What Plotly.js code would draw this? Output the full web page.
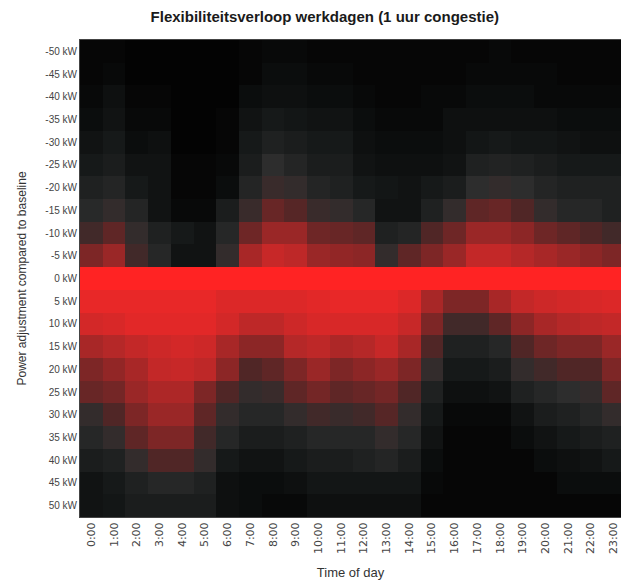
<!DOCTYPE html>
<html>
<head>
<meta charset="utf-8">
<script src="https://cdn.plot.ly/plotly-3.0.1.min.js"></script>
<style>html,body{margin:0;padding:0;background:#fff;overflow:hidden}#chart{width:621px;height:587px}</style>
</head>
<body>
<div id="chart"></div>
<script>
// Categories
const hours = ["0:00","1:00","2:00","3:00","4:00","5:00","6:00","7:00","8:00","9:00","10:00","11:00",
               "12:00","13:00","14:00","15:00","16:00","17:00","18:00","19:00","20:00","21:00","22:00","23:00"];
const powerLabels = ["-50 kW","-45 kW","-40 kW","-35 kW","-30 kW","-25 kW","-20 kW","-15 kW","-10 kW","-5 kW","0 kW",
                     "5 kW","10 kW","15 kW","20 kW","25 kW","30 kW","35 kW","40 kW","45 kW","50 kW"];

// Relative frequency (0..1) per power level, one value per hour
const p_m50 = [0.02,0.02,0.01,0.01,0.01,0.01,0.01,0.02,0.03,0.03,0.02,0.02,0.02,0.02,0.02,0.02,0.02,0.02,0.03,0.02,0.02,0.02,0.02,0.02];
const p_m45 = [0.02,0.03,0.01,0.01,0.01,0.01,0.01,0.02,0.04,0.04,0.03,0.03,0.02,0.02,0.02,0.02,0.02,0.03,0.03,0.03,0.03,0.02,0.02,0.02];
const p_m40 = [0.03,0.05,0.02,0.02,0.01,0.01,0.01,0.04,0.05,0.05,0.04,0.04,0.03,0.02,0.02,0.03,0.03,0.04,0.04,0.04,0.03,0.03,0.03,0.03];
const p_m35 = [0.04,0.06,0.03,0.03,0.01,0.01,0.02,0.06,0.08,0.07,0.06,0.06,0.04,0.03,0.03,0.03,0.05,0.05,0.05,0.05,0.05,0.04,0.04,0.04];
const p_m30 = [0.06,0.08,0.04,0.05,0.01,0.01,0.02,0.08,0.12,0.10,0.08,0.08,0.05,0.04,0.04,0.04,0.05,0.07,0.08,0.07,0.07,0.06,0.05,0.05];
const p_m25 = [0.08,0.10,0.06,0.06,0.02,0.02,0.03,0.10,0.18,0.14,0.10,0.10,0.06,0.05,0.05,0.05,0.06,0.12,0.13,0.12,0.10,0.08,0.08,0.08];
const p_m20 = [0.12,0.14,0.08,0.06,0.02,0.02,0.04,0.14,0.22,0.20,0.14,0.12,0.08,0.07,0.06,0.08,0.10,0.18,0.20,0.18,0.14,0.12,0.12,0.12];
const p_m15 = [0.16,0.20,0.14,0.06,0.03,0.03,0.10,0.22,0.38,0.32,0.22,0.20,0.15,0.06,0.06,0.12,0.20,0.35,0.38,0.30,0.20,0.15,0.15,0.12];
const p_m10 = [0.25,0.35,0.20,0.12,0.08,0.06,0.15,0.40,0.55,0.55,0.40,0.38,0.35,0.12,0.14,0.30,0.40,0.55,0.55,0.50,0.40,0.35,0.30,0.25];
const p_m5  = [0.45,0.55,0.25,0.15,0.06,0.06,0.20,0.60,0.72,0.68,0.55,0.52,0.50,0.20,0.35,0.45,0.55,0.70,0.70,0.65,0.60,0.55,0.50,0.45];
const p_0   = [1,1,1,1,1,1,1,1,1,1,1,1,1,1,1,1,1,1,1,1,1,1,1,1];
const p_5   = [0.88,0.88,0.88,0.88,0.88,0.88,0.82,0.82,0.82,0.82,0.85,0.88,0.88,0.88,0.82,0.60,0.45,0.45,0.60,0.70,0.75,0.78,0.80,0.82];
const p_10  = [0.78,0.80,0.85,0.85,0.85,0.85,0.78,0.68,0.68,0.75,0.80,0.80,0.80,0.80,0.72,0.45,0.25,0.25,0.35,0.50,0.60,0.65,0.68,0.70];
const p_15  = [0.60,0.65,0.70,0.75,0.78,0.75,0.60,0.50,0.50,0.65,0.68,0.62,0.65,0.72,0.60,0.30,0.12,0.12,0.15,0.30,0.40,0.45,0.45,0.55];
const p_20  = [0.45,0.52,0.60,0.70,0.72,0.68,0.50,0.30,0.35,0.45,0.55,0.45,0.50,0.55,0.45,0.20,0.08,0.08,0.10,0.20,0.25,0.30,0.30,0.45];
const p_25  = [0.38,0.42,0.55,0.62,0.62,0.45,0.30,0.20,0.22,0.35,0.42,0.35,0.38,0.42,0.30,0.12,0.05,0.05,0.06,0.12,0.15,0.18,0.20,0.35];
const p_30  = [0.20,0.30,0.45,0.55,0.55,0.35,0.20,0.15,0.15,0.20,0.25,0.22,0.25,0.32,0.20,0.08,0.03,0.03,0.03,0.06,0.10,0.12,0.15,0.20];
const p_35  = [0.15,0.20,0.35,0.45,0.45,0.25,0.15,0.10,0.10,0.12,0.15,0.15,0.15,0.20,0.15,0.06,0.02,0.02,0.02,0.04,0.06,0.08,0.10,0.12];
const p_40  = [0.10,0.12,0.20,0.30,0.30,0.20,0.08,0.06,0.06,0.08,0.10,0.10,0.12,0.14,0.10,0.04,0.02,0.02,0.02,0.02,0.04,0.05,0.06,0.08];
const p_45  = [0.06,0.08,0.12,0.15,0.15,0.12,0.05,0.04,0.04,0.05,0.07,0.07,0.07,0.07,0.07,0.03,0.02,0.02,0.02,0.02,0.02,0.04,0.04,0.04];
const p_50  = [0.06,0.07,0.10,0.10,0.10,0.10,0.05,0.04,0.03,0.03,0.05,0.05,0.05,0.05,0.05,0.02,0.02,0.02,0.02,0.02,0.02,0.02,0.02,0.02];

const zRows = [p_m50,p_m45,p_m40,p_m35,p_m30,p_m25,p_m20,p_m15,p_m10,p_m5,p_0,
               p_5,p_10,p_15,p_20,p_25,p_30,p_35,p_40,p_45,p_50];

const colorscale = [
  [0.00,'rgb(0,0,0)'],
  [0.08,'rgb(22,25,25)'],
  [0.18,'rgb(45,45,45)'],
  [0.30,'rgb(80,38,38)'],
  [0.50,'rgb(140,38,38)'],
  [0.70,'rgb(195,40,40)'],
  [0.88,'rgb(232,40,40)'],
  [1.00,'rgb(255,35,35)']
];

const trace = {
  type: 'heatmap',
  x: hours,
  y: powerLabels,
  z: zRows,
  zmin: 0, zmax: 1,
  colorscale: colorscale,
  showscale: false,
  zsmooth: false,
  hoverinfo: 'x+y+z'
};

const layout = {
  width: 621, height: 587,
  paper_bgcolor: '#ffffff', plot_bgcolor: '#000000',
  margin: {l: 80, r: 0, t: 40, b: 70},
  title: {
    text: '<b>Flexibiliteitsverloop werkdagen (1 uur congestie)</b>',
    font: {family: 'Liberation Sans, Arial, sans-serif', size: 15, color: '#1a1a1a'},
    xref: 'container', yref: 'container',
    x: 0.523, xanchor: 'center', y: 0.971, yanchor: 'middle'
  },
  xaxis: {
    type: 'category',
    range: [-0.5, 23.33],
    tickangle: -90,
    ticks: '', ticklen: 0,
    tickfont: {family: 'DejaVu Sans, sans-serif', size: 11, color: '#444'},
    showgrid: false, zeroline: false,
    showline: true, linecolor: '#444', linewidth: 1, mirror: true,
    title: {text: 'Time of day', font: {family: 'Liberation Sans, Arial, sans-serif', size: 13, color: '#333'}, standoff: 14},
    automargin: false
  },
  yaxis: {
    type: 'category',
    autorange: false,
    range: [20.5, -0.5],
    ticks: '', ticklen: 0,
    tickfont: {family: 'Liberation Sans, Arial, sans-serif', size: 10, color: '#444'},
    showgrid: false, zeroline: false,
    showline: true, linecolor: '#444', linewidth: 1,
    title: {text: 'Power adjustment compared to baseline', font: {family: 'Liberation Sans, Arial, sans-serif', size: 12, color: '#333'}, standoff: 16},
    automargin: false
  }
};

Plotly.newPlot('chart', [trace], layout, {displayModeBar: false, staticPlot: true});
</script>
</body>
</html>
